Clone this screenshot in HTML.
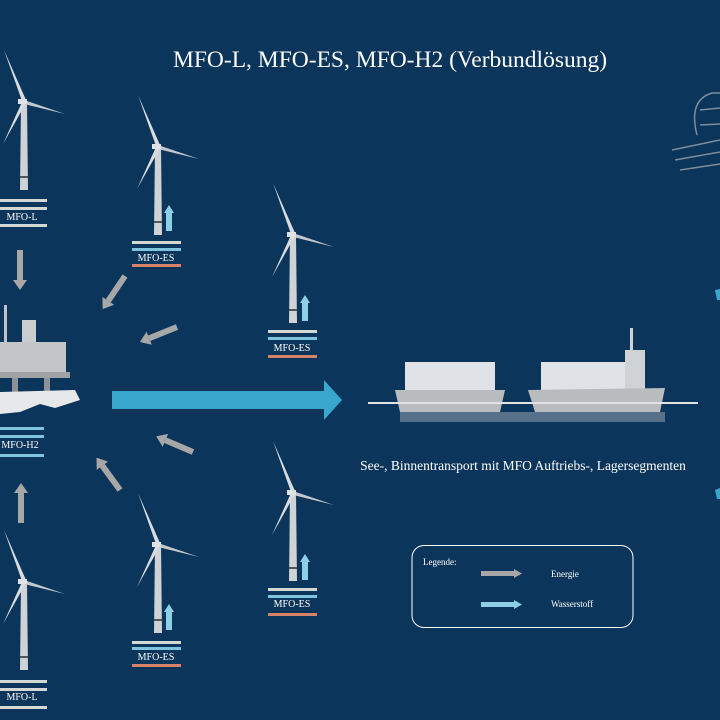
<!DOCTYPE html>
<html><head><meta charset="utf-8"><style>
html,body{margin:0;padding:0;background:#0b355b;}
svg{display:block}
text{font-family:"Liberation Serif",serif;fill:#fff}
</style></head><body>
<svg width="720" height="720" viewBox="0 0 720 720" xmlns="http://www.w3.org/2000/svg">
<defs>
<g id="tb">
  <polygon points="-3,0 3,0 4,88 -4,88" fill="#cfd3d6"/>
  <rect x="-4" y="74" width="8" height="2" fill="#555"/>
  <polygon points="-2,-1 2,-2 -20,-52" fill="#d8dcdf"/>
  <polygon points="0,-2 0,2 41,12" fill="#c4c8cc"/>
  <polygon points="-2,0 2,1 -21,42" fill="#d8dcdf"/>
  <rect x="-6" y="-3" width="9" height="5" fill="#e0e3e6"/>
</g>
<g id="ga"><rect x="0" y="-3" width="30" height="6" fill="#a7a7a7"/><polygon points="30,-7 40,0 30,7" fill="#a7a7a7"/></g>
<g id="ba"><rect x="-3" y="0" width="6" height="18" fill="#8ecfe8"/><polygon points="-5,0 5,0 0,-8" fill="#8ecfe8"/></g>
</defs>

<text x="390" y="67" font-size="23.5" text-anchor="middle">MFO-L, MFO-ES, MFO-H2 (Verbundlösung)</text>

<use href="#tb" transform="translate(24,102)"/>
<use href="#tb" transform="translate(158,147)"/>
<use href="#tb" transform="translate(293,235)"/>
<use href="#tb" transform="translate(158,545)"/>
<use href="#tb" transform="translate(293,493)"/>
<use href="#tb" transform="translate(24,582)"/>

<rect x="0" y="199" width="47" height="3" fill="#d4d8d4"/>
<rect x="0" y="207" width="47" height="3" fill="#d4d8d4"/>
<text x="22" y="220" font-size="10" text-anchor="middle">MFO-L</text>
<rect x="0" y="224" width="47" height="3" fill="#d4d8d4"/>

<use href="#ba" transform="translate(169,213)"/>
<rect x="132" y="241" width="49" height="3" fill="#d4d8d4"/>
<rect x="132" y="248" width="49" height="3" fill="#7fc3dd"/>
<text x="156" y="261" font-size="10" text-anchor="middle">MFO-ES</text>
<rect x="132" y="264" width="49" height="3" fill="#d9826a"/>

<use href="#ba" transform="translate(305,303)"/>
<rect x="268" y="330" width="49" height="3" fill="#d4d8d4"/>
<rect x="268" y="337" width="49" height="3" fill="#7fc3dd"/>
<text x="292" y="351" font-size="10" text-anchor="middle">MFO-ES</text>
<rect x="268" y="355" width="49" height="3" fill="#d9826a"/>

<use href="#ba" transform="translate(169,612)"/>
<rect x="132" y="641" width="49" height="3" fill="#d4d8d4"/>
<rect x="132" y="647" width="49" height="3" fill="#7fc3dd"/>
<text x="156" y="660" font-size="10" text-anchor="middle">MFO-ES</text>
<rect x="132" y="664" width="49" height="3" fill="#d9826a"/>

<use href="#ba" transform="translate(305,562)"/>
<rect x="268" y="588" width="49" height="3" fill="#d4d8d4"/>
<rect x="268" y="595" width="49" height="3" fill="#7fc3dd"/>
<text x="292" y="607" font-size="10" text-anchor="middle">MFO-ES</text>
<rect x="268" y="613" width="49" height="3" fill="#d9826a"/>

<rect x="0" y="680" width="47" height="3" fill="#d4d8d4"/>
<rect x="0" y="688" width="47" height="3" fill="#d4d8d4"/>
<text x="22" y="700" font-size="10" text-anchor="middle">MFO-L</text>
<rect x="0" y="706" width="47" height="3" fill="#d4d8d4"/>

<g fill="#c9cdd0">
  <rect x="4" y="305" width="3" height="40" fill="#bfc3c6"/>
  <rect x="22" y="320" width="14" height="25"/>
  <rect x="0" y="342" width="66" height="30" fill="#c2c6c9"/>
  <rect x="0" y="372" width="70" height="6" fill="#9ea2a5"/>
  <rect x="12" y="378" width="6" height="22" fill="#8e9295"/>
  <rect x="44" y="378" width="6" height="22" fill="#8e9295"/>
  <path d="M0,392 L75,390 L80,400 L55,408 L40,404 L20,412 L0,414 Z" fill="#e6e8ea"/>
</g>
<rect x="0" y="427" width="44" height="3" fill="#7fc3dd"/>
<rect x="0" y="435" width="44" height="3" fill="#7fc3dd"/>
<text x="20" y="448" font-size="10" text-anchor="middle">MFO-H2</text>
<rect x="0" y="454" width="44" height="3" fill="#7fc3dd"/>

<use href="#ga" transform="translate(20,250) rotate(90)"/>
<use href="#ga" transform="translate(125,276) rotate(124)"/>
<use href="#ga" transform="translate(177,327) rotate(158)"/>
<use href="#ga" transform="translate(193,452) rotate(-157)"/>
<use href="#ga" transform="translate(120,490) rotate(-126)"/>
<use href="#ga" transform="translate(21,523) rotate(-90)"/>

<polygon points="112,391 324,391 324,380 342,400 324,420 324,409 112,409" fill="#39a6cc"/>

<g>
  <rect x="405" y="362" width="90" height="30" fill="#dfe2e6"/>
  <path d="M395,390 L505,390 L500,412 L400,412 Z" fill="#b9bcbf"/>
  <rect x="541" y="362" width="95" height="30" fill="#dfe2e6"/>
  <rect x="625" y="350" width="20" height="40" fill="#d0d3d6"/>
  <rect x="630" y="328" width="3" height="25" fill="#d0d3d6"/>
  <path d="M528,390 L665,388 L660,412 L535,412 Z" fill="#b9bcbf"/>
  <rect x="368" y="402" width="330" height="2" fill="#e0e2e4"/>
  <rect x="400" y="412" width="265" height="10" fill="#c8ccd0" opacity="0.4"/>
</g>
<text x="523" y="470" font-size="13.5" text-anchor="middle">See-, Binnentransport mit MFO Auftriebs-, Lagersegmenten</text>

<g fill="none" stroke="#9aa4ae" stroke-width="1.5" opacity="0.8">
  <path d="M697,135 Q688,100 712,93 L720,93"/>
  <path d="M700,110 L720,108 M700,125 L720,124"/>
  <path d="M672,150 L720,140 M675,160 L720,152 M680,170 L720,164"/>
</g>
<polygon points="715,290 720,289 720,300 717,300" fill="#39a6cc"/>
<polygon points="715,490 720,488 720,499 717,499" fill="#39a6cc"/>

<rect x="412" y="545.5" width="221" height="82" rx="12" fill="none" stroke="#fff" stroke-width="1"/>
<text x="423" y="565" font-size="9">Legende:</text>
<rect x="481" y="571" width="33" height="5" fill="#a7a7a7"/><polygon points="514,569 522,573.5 514,578" fill="#a7a7a7"/>
<text x="551" y="577" font-size="9">Energie</text>
<rect x="481" y="602" width="33" height="5" fill="#8ecfe8"/><polygon points="514,600 522,604.5 514,609" fill="#8ecfe8"/>
<text x="551" y="607" font-size="9">Wasserstoff</text>
</svg>
</body></html>
